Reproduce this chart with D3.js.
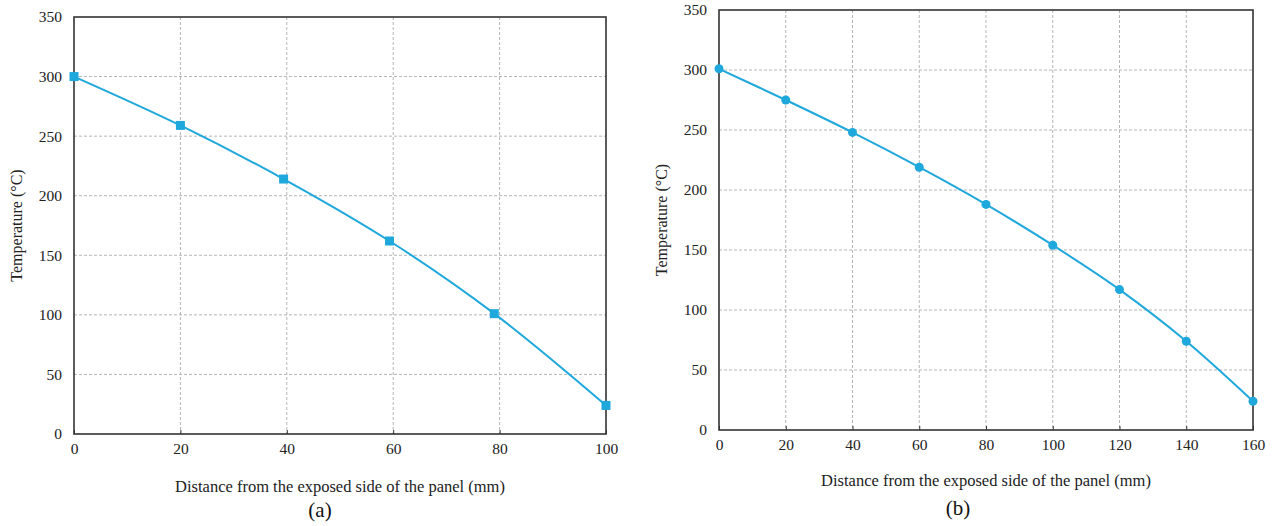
<!DOCTYPE html>
<html>
<head>
<meta charset="utf-8">
<script src="https://cdn.jsdelivr.net/npm/d3@7"></script>
<style>
  body { margin: 0; background: #fff; }
  svg { display: block; font-family: "Liberation Serif", "Times New Roman", serif; }
  .grid line { stroke: #b5b5b5; stroke-width: 1; stroke-dasharray: 3,2; }
  .tick text { fill: #222; font-size: 15.5px; }
</style>
</head>
<body>
<svg id="chart" width="1274" height="526"></svg>
<script>
// panel (a)
var distA = [0, 20, 39.4, 59.3, 79, 100];
var tempA = [300, 259, 214, 162, 101, 24];
var xTicksA = [0, 20, 40, 60, 80, 100];
// panel (b)
var distB = [0, 20, 40, 60, 80, 100, 120, 140, 160];
var tempB = [301, 275, 248, 219, 188, 154, 117, 74, 24];
var xTicksB = [0, 20, 40, 60, 80, 100, 120, 140, 160];
var yTicks = [0, 50, 100, 150, 200, 250, 300, 350];

var lineColor = '#1fa8dc';
var svg = d3.select('#chart');

function panel(opt) {
  var x = d3.scaleLinear().domain([0, opt.xMax]).range([opt.left, opt.right]);
  var y = d3.scaleLinear().domain([0, 350]).range([opt.bottom, opt.top]);
  var g = svg.append('g');

  // grid
  var grid = g.append('g').attr('class', 'grid');
  grid.selectAll('.gx').data(opt.xTicks.slice(1, -1)).enter().append('line')
    .attr('x1', d => x(d)).attr('x2', d => x(d))
    .attr('y1', opt.top).attr('y2', opt.bottom);
  grid.selectAll('.gy').data(yTicks.slice(1, -1)).enter().append('line')
    .attr('x1', opt.left).attr('x2', opt.right)
    .attr('y1', d => y(d)).attr('y2', d => y(d));

  // axes
  var xAxis = d3.axisBottom(x).tickValues(opt.xTicks).tickSize(-4).tickPadding(9);
  var yAxis = d3.axisLeft(y).tickValues(yTicks).tickSize(0).tickPadding(12);
  var ax = g.append('g').attr('transform', 'translate(0,' + opt.bottom + ')').call(xAxis);
  var ay = g.append('g').attr('transform', 'translate(' + opt.left + ',0)').call(yAxis);
  [ax, ay].forEach(function(a) {
    a.select('.domain').remove();
    a.selectAll('.tick line').attr('stroke', '#333');
    a.selectAll('text').attr('font-family', '"Liberation Serif", serif');
  });

  // frame
  g.append('rect')
    .attr('x', opt.left).attr('y', opt.top)
    .attr('width', opt.right - opt.left).attr('height', opt.bottom - opt.top)
    .attr('fill', 'none').attr('stroke', '#333').attr('stroke-width', 1.6);

  // curve
  var pts = opt.xs.map((d, i) => [d, opt.ys[i]]);
  var line = d3.line().x(d => x(d[0])).y(d => y(d[1])).curve(d3.curveCatmullRom);
  g.append('path').datum(pts)
    .attr('d', line).attr('fill', 'none')
    .attr('stroke', lineColor).attr('stroke-width', 2);

  // markers
  if (opt.marker === 'square') {
    g.selectAll('.m').data(pts).enter().append('rect')
      .attr('x', d => x(d[0]) - 4.5).attr('y', d => y(d[1]) - 4.5)
      .attr('width', 9).attr('height', 9).attr('fill', lineColor);
  } else {
    g.selectAll('.m').data(pts).enter().append('circle')
      .attr('cx', d => x(d[0])).attr('cy', d => y(d[1]))
      .attr('r', 4.5).attr('fill', lineColor);
  }

  // labels
  g.append('text')
    .attr('transform', 'translate(' + opt.yLabX + ',' + ((opt.top + opt.bottom) / 2) + ') rotate(-90)')
    .attr('text-anchor', 'middle').attr('font-size', 16).attr('fill', '#222')
    .text('Temperature (°C)');
  g.append('text')
    .attr('x', (opt.left + opt.right) / 2).attr('y', opt.xLabY)
    .attr('text-anchor', 'middle').attr('font-size', 16.5).attr('fill', '#222')
    .text('Distance from the exposed side of the panel (mm)');
  g.append('text')
    .attr('x', opt.capX).attr('y', opt.capY)
    .attr('text-anchor', 'middle').attr('font-size', 21).attr('fill', '#111')
    .text(opt.caption);
}

panel({ left: 74, right: 606, top: 17, bottom: 434, xMax: 100,
  xTicks: xTicksA, xs: distA, ys: tempA, marker: 'square',
  yLabX: 22, xLabY: 492, capX: 320, capY: 517, caption: '(a)' });

panel({ left: 719, right: 1253, top: 10, bottom: 430, xMax: 160,
  xTicks: xTicksB, xs: distB, ys: tempB, marker: 'circle',
  yLabX: 667, xLabY: 486, capX: 958, capY: 515, caption: '(b)' });
</script>
</body>
</html>
